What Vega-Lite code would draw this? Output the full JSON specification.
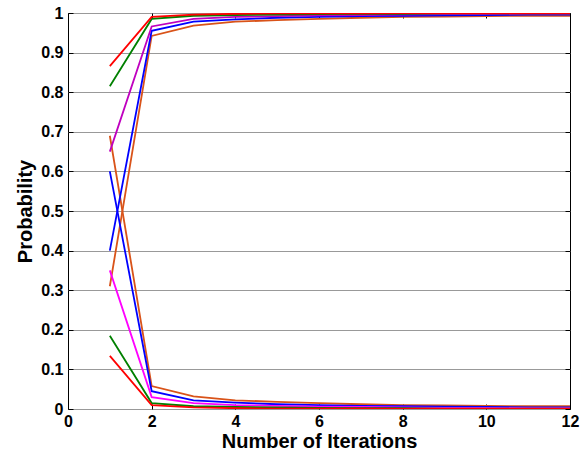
{
  "$schema": "https://vega.github.io/schema/vega-lite/v6.json",
  "width": 502,
  "height": 396,
  "autosize": {"type": "none"},
  "padding": {"left": 68, "top": 13, "right": 11, "bottom": 46},
  "config": {
    "view": {"stroke": "#000000", "strokeWidth": 1},
    "font": "Liberation Sans",
    "axis": {"labelFont": "Liberation Sans", "titleFont": "Liberation Sans", "labelFontWeight": "bold", "titleFontWeight": "bold", "labelFontSize": 16, "titleFontSize": 20, "labelColor": "#000", "titleColor": "#000", "domain": false, "tickColor": "#000", "tickSize": -5, "tickWidth": 1}
  },
  "data": {"values": [
    {"x":1,"y":0.31,"s":"o_hi"},{"x":2,"y":0.942,"s":"o_hi"},{"x":3,"y":0.968,"s":"o_hi"},{"x":4,"y":0.978,"s":"o_hi"},{"x":5,"y":0.982,"s":"o_hi"},{"x":6,"y":0.985,"s":"o_hi"},{"x":7,"y":0.988,"s":"o_hi"},{"x":8,"y":0.99,"s":"o_hi"},{"x":9,"y":0.991,"s":"o_hi"},{"x":10,"y":0.992,"s":"o_hi"},{"x":11,"y":0.993,"s":"o_hi"},{"x":12,"y":0.993,"s":"o_hi"},
    {"x":1,"y":0.69,"s":"o_lo"},{"x":2,"y":0.058,"s":"o_lo"},{"x":3,"y":0.032,"s":"o_lo"},{"x":4,"y":0.022,"s":"o_lo"},{"x":5,"y":0.018,"s":"o_lo"},{"x":6,"y":0.015,"s":"o_lo"},{"x":7,"y":0.012,"s":"o_lo"},{"x":8,"y":0.01,"s":"o_lo"},{"x":9,"y":0.009,"s":"o_lo"},{"x":10,"y":0.008,"s":"o_lo"},{"x":11,"y":0.007,"s":"o_lo"},{"x":12,"y":0.007,"s":"o_lo"},
    {"x":1,"y":0.40,"s":"b_hi"},{"x":2,"y":0.955,"s":"b_hi"},{"x":3,"y":0.978,"s":"b_hi"},{"x":4,"y":0.984,"s":"b_hi"},{"x":5,"y":0.988,"s":"b_hi"},{"x":6,"y":0.99,"s":"b_hi"},{"x":7,"y":0.992,"s":"b_hi"},{"x":8,"y":0.993,"s":"b_hi"},{"x":9,"y":0.994,"s":"b_hi"},{"x":10,"y":0.995,"s":"b_hi"},{"x":11,"y":0.996,"s":"b_hi"},{"x":12,"y":0.996,"s":"b_hi"},
    {"x":1,"y":0.60,"s":"b_lo"},{"x":2,"y":0.045,"s":"b_lo"},{"x":3,"y":0.022,"s":"b_lo"},{"x":4,"y":0.016,"s":"b_lo"},{"x":5,"y":0.012,"s":"b_lo"},{"x":6,"y":0.01,"s":"b_lo"},{"x":7,"y":0.008,"s":"b_lo"},{"x":8,"y":0.007,"s":"b_lo"},{"x":9,"y":0.006,"s":"b_lo"},{"x":10,"y":0.005,"s":"b_lo"},{"x":11,"y":0.004,"s":"b_lo"},{"x":12,"y":0.004,"s":"b_lo"},
    {"x":1,"y":0.65,"s":"p_hi"},{"x":2,"y":0.966,"s":"p_hi"},{"x":3,"y":0.985,"s":"p_hi"},{"x":4,"y":0.99,"s":"p_hi"},{"x":5,"y":0.992,"s":"p_hi"},{"x":6,"y":0.994,"s":"p_hi"},{"x":7,"y":0.995,"s":"p_hi"},{"x":8,"y":0.996,"s":"p_hi"},{"x":9,"y":0.997,"s":"p_hi"},{"x":10,"y":0.997,"s":"p_hi"},{"x":11,"y":0.998,"s":"p_hi"},{"x":12,"y":0.998,"s":"p_hi"},
    {"x":1,"y":0.35,"s":"m_lo"},{"x":2,"y":0.03,"s":"m_lo"},{"x":3,"y":0.015,"s":"m_lo"},{"x":4,"y":0.01,"s":"m_lo"},{"x":5,"y":0.008,"s":"m_lo"},{"x":6,"y":0.006,"s":"m_lo"},{"x":7,"y":0.005,"s":"m_lo"},{"x":8,"y":0.004,"s":"m_lo"},{"x":9,"y":0.003,"s":"m_lo"},{"x":10,"y":0.003,"s":"m_lo"},{"x":11,"y":0.002,"s":"m_lo"},{"x":12,"y":0.002,"s":"m_lo"},
    {"x":1,"y":0.815,"s":"g_hi"},{"x":2,"y":0.985,"s":"g_hi"},{"x":3,"y":0.993,"s":"g_hi"},{"x":4,"y":0.995,"s":"g_hi"},{"x":5,"y":0.996,"s":"g_hi"},{"x":6,"y":0.997,"s":"g_hi"},{"x":7,"y":0.998,"s":"g_hi"},{"x":8,"y":0.998,"s":"g_hi"},{"x":9,"y":0.999,"s":"g_hi"},{"x":10,"y":0.999,"s":"g_hi"},{"x":11,"y":0.999,"s":"g_hi"},{"x":12,"y":0.999,"s":"g_hi"},
    {"x":1,"y":0.185,"s":"g_lo"},{"x":2,"y":0.015,"s":"g_lo"},{"x":3,"y":0.007,"s":"g_lo"},{"x":4,"y":0.005,"s":"g_lo"},{"x":5,"y":0.004,"s":"g_lo"},{"x":6,"y":0.003,"s":"g_lo"},{"x":7,"y":0.002,"s":"g_lo"},{"x":8,"y":0.002,"s":"g_lo"},{"x":9,"y":0.001,"s":"g_lo"},{"x":10,"y":0.001,"s":"g_lo"},{"x":11,"y":0.001,"s":"g_lo"},{"x":12,"y":0.001,"s":"g_lo"},
    {"x":1,"y":0.866,"s":"r_hi"},{"x":2,"y":0.99,"s":"r_hi"},{"x":3,"y":0.996,"s":"r_hi"},{"x":4,"y":0.998,"s":"r_hi"},{"x":5,"y":0.999,"s":"r_hi"},{"x":6,"y":0.999,"s":"r_hi"},{"x":7,"y":0.999,"s":"r_hi"},{"x":8,"y":1.0,"s":"r_hi"},{"x":9,"y":1.0,"s":"r_hi"},{"x":10,"y":1.0,"s":"r_hi"},{"x":11,"y":1.0,"s":"r_hi"},{"x":12,"y":1.0,"s":"r_hi"},
    {"x":1,"y":0.134,"s":"r_lo"},{"x":2,"y":0.01,"s":"r_lo"},{"x":3,"y":0.004,"s":"r_lo"},{"x":4,"y":0.002,"s":"r_lo"},{"x":5,"y":0.001,"s":"r_lo"},{"x":6,"y":0.001,"s":"r_lo"},{"x":7,"y":0.001,"s":"r_lo"},{"x":8,"y":0.0,"s":"r_lo"},{"x":9,"y":0.0,"s":"r_lo"},{"x":10,"y":0.0,"s":"r_lo"},{"x":11,"y":0.0,"s":"r_lo"},{"x":12,"y":0.0,"s":"r_lo"}
  ]},
  "resolve": {"axis": {"x": "independent", "y": "independent"}},
  "layer": [
    {
      "mark": {"type": "line", "strokeWidth": 1.8, "clip": true},
      "encoding": {
        "x": {"field": "x", "type": "quantitative", "scale": {"domain": [0, 12], "nice": false, "zero": false},
              "axis": {"title": "Number of Iterations", "values": [0,2,4,6,8,10,12], "grid": false, "labelPadding": 9, "titlePadding": 2, "labelFlush": false}},
        "y": {"field": "y", "type": "quantitative", "scale": {"domain": [0, 1], "nice": false},
              "axis": {"title": "Probability", "values": [0,0.1,0.2,0.3,0.4,0.5,0.6,0.7,0.8,0.9,1], "format": "~g", "grid": true, "gridColor": "#999999", "gridWidth": 1, "gridOpacity": 1, "labelPadding": 10, "titlePadding": 5, "labelFlush": false}},
        "color": {"field": "s", "type": "nominal", "legend": null,
                  "scale": {"domain": ["o_hi","o_lo","b_hi","b_lo","p_hi","m_lo","g_hi","g_lo","r_hi","r_lo"],
                            "range": ["#d95319","#d95319","#0000ff","#0000ff","#bf00bf","#ff00ff","#008000","#008000","#ff0000","#ff0000"]}},
        "order": {"field": "x", "type": "quantitative"}
      }
    },
    {
      "mark": {"type": "line", "opacity": 0},
      "encoding": {
        "x": {"field": "x", "type": "quantitative", "scale": {"domain": [0, 12], "nice": false, "zero": false},
              "axis": {"orient": "top", "title": null, "labels": false, "values": [0,2,4,6,8,10,12], "grid": false}},
        "y": {"field": "y", "type": "quantitative", "scale": {"domain": [0, 1], "nice": false},
              "axis": {"orient": "right", "title": null, "labels": false, "values": [0,0.1,0.2,0.3,0.4,0.5,0.6,0.7,0.8,0.9,1], "grid": false}},
        "detail": {"field": "s"}
      }
    }
  ]
}
